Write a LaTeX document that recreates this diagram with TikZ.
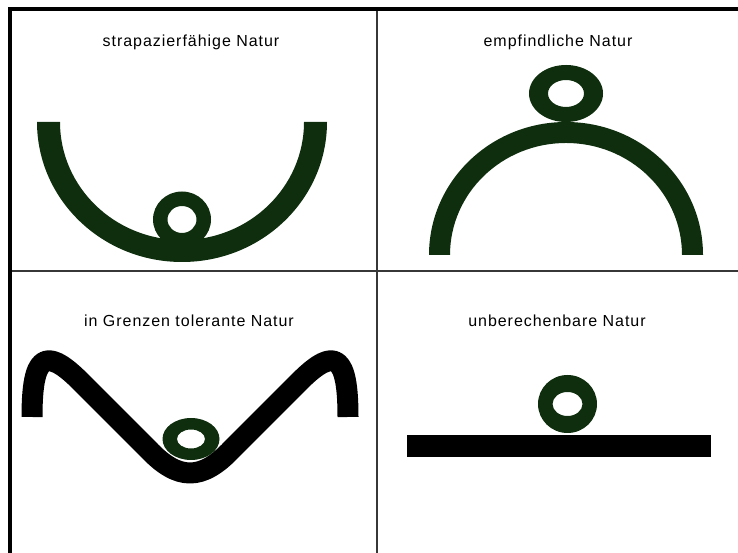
\documentclass[tikz,border=0pt]{standalone}
\usepackage{fontspec}
\setmainfont{Liberation Sans}[LetterSpace=6]
\definecolor{darkgreen}{RGB}{14,46,14}
\begin{document}
\begin{tikzpicture}[x=1pt,y=1pt,line cap=butt,line join=round,
	lbl/.style={font=\fontsize{16}{19}\selectfont,anchor=base,inner sep=0pt},
	ring/.style={fill=darkgreen,even odd rule},
	boxline/.style={line width=3.5pt,line join=miter},
	divider/.style={line width=1.4pt,draw={rgb,255:red,55;green,55;blue,55}}]
	\useasboundingbox (0,0) rectangle (738,553);
	\path (10,0) coordinate (BL) (10,544) coordinate (TL) (738,544) coordinate (TR)
	(377,544) coordinate (VT) (377,0) coordinate (VB)
	(10,282) coordinate (HL) (738,282) coordinate (HR)
	(182,333.5) coordinate (R1) (566,459.5) coordinate (R2)
	(191,114) coordinate (R3) (567.5,149) coordinate (R4);
	% frame and cells
	\draw[divider] (VT)--(VB) (HL)--(HR);
	\draw[boxline] (BL)--(TL)--(TR);
	% bowl and arch
	\fill[darkgreen] (37,431) arc[start angle=180,end angle=360,x radius=145,y radius=140]
		-- (304,431) arc[start angle=0,end angle=-180,x radius=122,y radius=118] -- cycle;
	\fill[darkgreen] (429,298) arc[start angle=180,end angle=0,x radius=137,y radius=133]
		-- (682,298) arc[start angle=0,end angle=180,x radius=116,y radius=112] -- cycle;
	% wave and flat bar
	\draw[line width=21] (32,136) .. controls (32,196) and (44,208) .. (80,172) -- (148,104)
		.. controls (178,72) and (202,72) .. (232,104) -- (300,172)
		.. controls (336,208) and (348,196) .. (348,136);
	\fill (407,96) rectangle (711,118);
	% balls
	\foreach \r/\ra/\rb/\ia/\ib in {R1/29/28/14.5/13.5,R2/37/28.5/18/13.5,R3/28.5/21/14/9.5,R4/29.5/29/15/12}
		\fill[ring] (\r) ellipse[x radius=\ra,y radius=\rb] (\r) ellipse[x radius=\ia,y radius=\ib];
	\foreach \n/\p/\t in {strap/{191,506}/strapazierfähige Natur,empf/{558,506}/empfindliche Natur,
		grenz/{189,226}/in Grenzen tolerante Natur,unber/{557,226}/unberechenbare Natur}
		\node[lbl] (\n) at (\p) {\t};
\end{tikzpicture}
\end{document}
